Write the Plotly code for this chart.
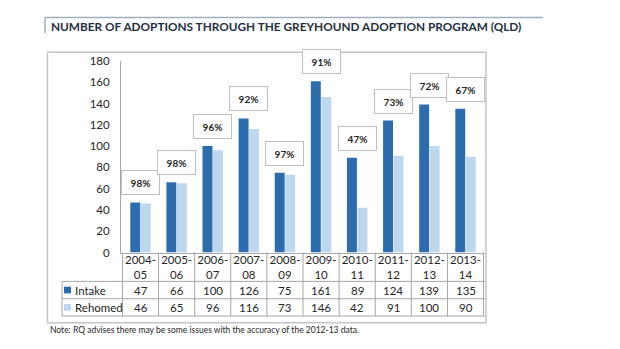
import plotly.graph_objects as go

categories = ["2004-05", "2005-06", "2006-07", "2007-08", "2008-09",
              "2009-10", "2010-11", "2011-12", "2012-13", "2013-14"]
intake = [47, 66, 100, 126, 75, 161, 89, 124, 139, 135]
rehomed = [46, 65, 96, 116, 73, 146, 42, 91, 100, 90]
rate_labels = ["98%", "98%", "96%", "92%", "97%", "91%", "47%", "73%", "72%", "67%"]
y_ticks = [0, 20, 40, 60, 80, 100, 120, 140, 160, 180]

title_text = "NUMBER OF ADOPTIONS THROUGH THE GREYHOUND ADOPTION PROGRAM (QLD)"
note_text = "Note: RQ advises there may be some issues with the accuracy of the 2012-13 data."

W, H = 620, 349
C_INTAKE = "#2E6DAD"
C_REHOMED = "#BDD7EE"
GRID = "#A6A6A6"
FONT = "Lato"
TXT = "#262626"


def px(x):
    return x / W


def py(y):
    return 1 - y / H


tick_text = [c.replace("-", "-<br>") for c in categories]

fig = go.Figure()
fig.add_trace(go.Bar(name="Intake", x=categories, y=intake, marker_color=C_INTAKE,
                     marker_line_width=0))
fig.add_trace(go.Bar(name="Rehomed", x=categories, y=rehomed, marker_color=C_REHOMED,
                     marker_line_width=0))

shapes = []
annotations = []

# Title decoration
shapes.append(dict(type="line", xref="paper", yref="paper", x0=px(45), x1=px(543),
                   y0=py(11), y1=py(11), line=dict(color="#9FB0BD", width=1.5)))
shapes.append(dict(type="line", xref="paper", yref="paper", x0=px(45), x1=px(45),
                   y0=py(11), y1=py(27), line=dict(color="#9FB0BD", width=1.5)))
annotations.append(dict(text="<b>" + title_text + "</b>", xref="paper", yref="paper",
                        x=px(49), y=py(20), xanchor="left", yanchor="middle",
                        showarrow=False, font=dict(family=FONT, size=11.8, color="#1F2F3F")))

# Outer chart frame
shapes.append(dict(type="rect", xref="paper", yref="paper", x0=px(47.5), x1=px(486),
                   y0=py(47), y1=py(328), line=dict(color="#C4C4C4", width=1.5)))

# Data table lines
row_tops = [255, 285, 303, 321]
n = len(categories)
for k in range(n + 1):
    shapes.append(dict(type="line", xref="x", yref="paper", x0=k - 0.5, x1=k - 0.5,
                       y0=py(255), y1=py(321), line=dict(color=GRID, width=1)))
for r in row_tops[1:]:
    shapes.append(dict(type="line", xref="paper", yref="paper", x0=px(62), x1=px(485),
                       y0=py(r), y1=py(r), line=dict(color=GRID, width=1)))
shapes.append(dict(type="line", xref="paper", yref="paper", x0=px(62), x1=px(62),
                   y0=py(285), y1=py(321), line=dict(color=GRID, width=1)))

# Legend keys in table
for (yc, col, name) in [(294, C_INTAKE, "Intake"), (312, C_REHOMED, "Rehomed")]:
    shapes.append(dict(type="rect", xref="paper", yref="paper", x0=px(64), x1=px(71),
                       y0=py(yc + 3.5), y1=py(yc - 3.5), fillcolor=col, line_width=0))
    annotations.append(dict(text=name, xref="paper", yref="paper", x=px(73), y=py(yc),
                            xanchor="left", yanchor="middle", showarrow=False,
                            font=dict(family=FONT, size=11.5, color=TXT)))

# Table values
for i, c in enumerate(categories):
    annotations.append(dict(text=str(intake[i]), xref="x", yref="paper", x=i, y=py(294),
                            xanchor="center", yanchor="middle", showarrow=False,
                            font=dict(family=FONT, size=11.5, color=TXT)))
    annotations.append(dict(text=str(rehomed[i]), xref="x", yref="paper", x=i, y=py(312),
                            xanchor="center", yanchor="middle", showarrow=False,
                            font=dict(family=FONT, size=11.5, color=TXT)))
    # Rate label boxes
    annotations.append(dict(text="<b>" + rate_labels[i] + "</b>", xref="x", yref="y",
                            x=i, y=intake[i], xanchor="center", yanchor="bottom",
                            yshift=7, showarrow=False, width=33, height=19,
                            borderpad=2, bordercolor="#BFBFBF", borderwidth=1,
                            bgcolor="white",
                            font=dict(family=FONT, size=10, color=TXT)))

# Note
annotations.append(dict(text=note_text, xref="paper", yref="paper", x=px(48), y=py(336),
                        xanchor="left", yanchor="middle", showarrow=False,
                        font=dict(family=FONT, size=8.5, color=TXT)))

fig.update_layout(
    width=W, height=H,
    margin=dict(l=0, r=0, t=0, b=0),
    paper_bgcolor="white", plot_bgcolor="white",
    showlegend=False,
    barmode="group", bargap=0.42, bargroupgap=0.05,
    shapes=shapes, annotations=annotations,
    font=dict(family=FONT, color=TXT),
    xaxis=dict(type="category", domain=[px(121), px(485)], tickmode="array",
               tickvals=categories, ticktext=tick_text, showline=True, linecolor=GRID,
               linewidth=1, ticks="", ticklabelstandoff=-3,
               tickfont=dict(family=FONT, size=11.5, color=TXT),
               showgrid=False, fixedrange=True),
    yaxis=dict(domain=[py(255), py(56)], range=[0, 180], tickmode="array",
               tickvals=y_ticks, showline=True, linecolor=GRID, linewidth=1,
               ticks="", showgrid=False, zeroline=False, ticklabelstandoff=8,
               tickfont=dict(family=FONT, size=11.5, color=TXT), fixedrange=True),
)

fig.write_html("out.html")
